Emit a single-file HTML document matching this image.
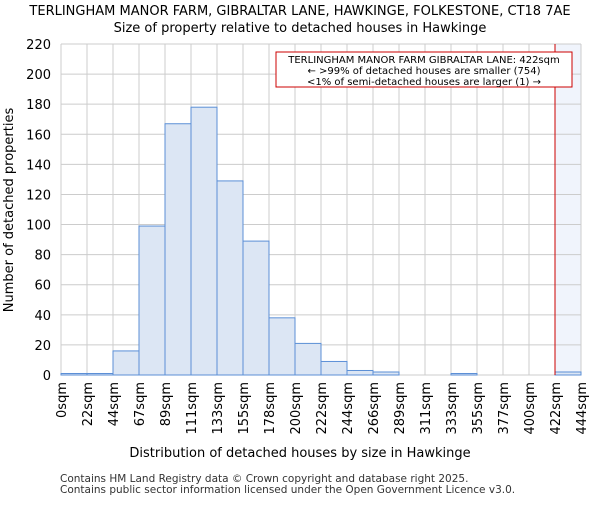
<!DOCTYPE html>
<html><head><meta charset="utf-8"><style>
body{margin:0;background:#fff;font-family:"Liberation Sans","DejaVu Sans",sans-serif;}
svg text{font-family:"DejaVu Sans","Liberation Sans",sans-serif;}
</style></head><body>
<svg id="chart" width="600" height="500">
<text x="300" y="15" text-anchor="middle" font-size="13">TERLINGHAM MANOR FARM, GIBRALTAR LANE, HAWKINGE, FOLKESTONE, CT18 7AE</text>
<text x="300" y="32" text-anchor="middle" font-size="13">Size of property relative to detached houses in Hawkinge</text>
<g id="grid"></g><g id="bars"></g><g id="axes"></g>
<text x="300" y="457" text-anchor="middle" font-size="13">Distribution of detached houses by size in Hawkinge</text>
<text transform="translate(13,210) rotate(-90)" text-anchor="middle" font-size="13">Number of detached properties</text>
<text x="60" y="482" font-size="10.5" fill="#333">Contains HM Land Registry data © Crown copyright and database right 2025.</text>
<text x="60" y="493" font-size="10.5" fill="#333">Contains public sector information licensed under the Open Government Licence v3.0.</text>
<g>
<rect x="276" y="52" width="296" height="35" fill="#fff" stroke="#c00" stroke-width="1"/>
<text x="424" y="63" text-anchor="middle" font-size="10">TERLINGHAM MANOR FARM GIBRALTAR LANE: 422sqm</text>
<text x="424" y="74" text-anchor="middle" font-size="10">← &gt;99% of detached houses are smaller (754)</text>
<text x="424" y="85" text-anchor="middle" font-size="10">&lt;1% of semi-detached houses are larger (1) →</text>
</g>
</svg>
<script>
const labels=["0sqm","22sqm","44sqm","67sqm","89sqm","111sqm","133sqm","155sqm","178sqm","200sqm","222sqm","244sqm","266sqm","289sqm","311sqm","333sqm","355sqm","377sqm","400sqm","422sqm","444sqm"];
const counts=[1,1,16,99,167,178,129,89,38,21,9,3,2,0,0,1,0,0,0,2];
const yTicks=[0,20,40,60,80,100,120,140,160,180,200,220];
const highlightBin=19;
const NS="http://www.w3.org/2000/svg";
const x0=61,x1=581,y0=375,y1=44,yMax=220;
const bw=(x1-x0)/counts.length;
const X=i=>x0+i*bw, Y=v=>y0-(v/yMax)*(y0-y1);
function mk(p,t,a){const e=document.createElementNS(NS,t);for(const k in a)e.setAttribute(k,a[k]);p.appendChild(e);return e;}
const grid=document.getElementById('grid'),bars=document.getElementById('bars'),axes=document.getElementById('axes');
const hl=mk(grid,'rect',{x:X(highlightBin),y:y1,width:x1-X(highlightBin),height:y0-y1,fill:'#f0f4fc'});


yTicks.forEach(v=>{
 const l=mk(grid,'line',{x1:x0,x2:x1,y1:Y(v),y2:Y(v),stroke:'#ccc'});
 
 
 const t=mk(axes,'text',{x:x0-10,y:Y(v)+5,'text-anchor':'end','font-size':13});
 
 
 t.textContent=v;
});
labels.forEach((s,i)=>{
 const l=mk(grid,'line',{x1:X(i),x2:X(i),y1:y1,y2:y0,stroke:'#ccc'});
 
 
 const t=mk(axes,'text',{transform:`translate(${X(i)+5},${y0+7}) rotate(-90)`,'text-anchor':'end','font-size':13});
 
 
 t.textContent=s;
});
counts.forEach((c,i)=>{
 const r=mk(bars,'rect',{x:X(i),y:Y(c),width:bw,height:y0-Y(c),fill:'#dce6f4',stroke:'#5b8fd6','stroke-width':1});
 
 
});
const rl=mk(axes,'line',{x1:X(highlightBin),x2:X(highlightBin),y1:y1,y2:y0,stroke:'#c00','stroke-width':1});


</script>
</body></html>
